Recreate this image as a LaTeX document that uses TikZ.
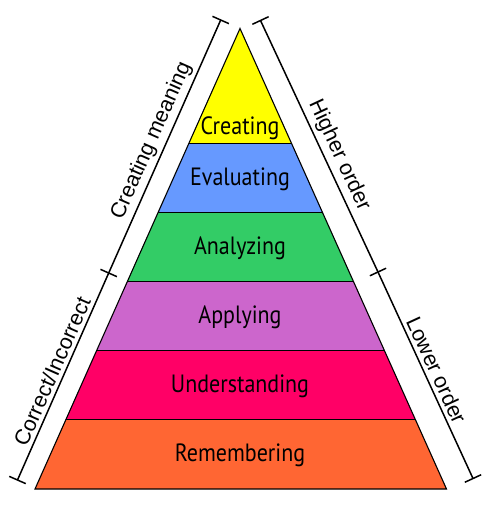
\documentclass[tikz,border=0pt]{standalone}
\usepackage{fontspec}
\setmainfont{PT Sans}
\newfontfamily\bandfont[FakeStretch=0.88]{PT Sans}
\newfontfamily\sidefont{Liberation Sans}
\usetikzlibrary{calc}
\definecolor{cyel}{HTML}{FFFF00}
\definecolor{cblue}{HTML}{6699FF}
\definecolor{cgreen}{HTML}{33CC66}
\definecolor{cpurple}{HTML}{CC66CC}
\definecolor{cpink}{HTML}{FF0066}
\definecolor{corange}{HTML}{FF6633}
\begin{document}
\begin{tikzpicture}[x=1pt,y=-1pt,
  band/.style={draw=black,line width=1.1pt,line join=miter},
  bandlabel/.style={font=\bandfont\fontsize{25}{25}\selectfont,inner sep=0pt},
  bracket/.style={line width=1.5pt},
  sidelabel/.style={font=\sidefont\fontsize{21.5}{21.5}\selectfont,inner sep=1pt,sloped,above=2.5pt}]
\useasboundingbox (0,0) rectangle (492,506);
\coordinate (A) at (240,28.5);
\coordinate (BL) at (35,489);
\coordinate (BR) at (446.5,489);
% band edges
\foreach \t/\n in {0.25/1,0.40/2,0.55/3,0.70/4,0.85/5,1/6}{
  \coordinate (L\n) at ($(A)!\t!(BL)$);
  \coordinate (R\n) at ($(A)!\t!(BR)$);
}
\fill[cyel] (A) -- (R1) -- (L1) -- cycle;
\fill[cblue] (L1) -- (R1) -- (R2) -- (L2) -- cycle;
\fill[cgreen] (L2) -- (R2) -- (R3) -- (L3) -- cycle;
\fill[cpurple] (L3) -- (R3) -- (R4) -- (L4) -- cycle;
\fill[cpink] (L4) -- (R4) -- (R5) -- (L5) -- cycle;
\fill[corange] (L5) -- (R5) -- (R6) -- (L6) -- cycle;
\draw[band] (A) -- (R6) -- (L6) -- cycle;
\foreach \n in {1,...,5}{ \draw[band] (L\n) -- (R\n); }
% band labels
\node[bandlabel] (creating) at (240,128) {Creating};
\node[bandlabel] (evaluating) at (240,179) {Evaluating};
\node[bandlabel] (analyzing) at (240,248) {Analyzing};
\node[bandlabel] (applying) at (240,317) {Applying};
\node[bandlabel] (understanding) at (240,386) {Understanding};
\node[bandlabel] (remembering) at (240,455) {Remembering};
% brackets
\coordinate (lt) at (220.7,20);
\coordinate (lm) at (108.7,273);
\coordinate (lb) at (17.5,480);
\coordinate (rt) at (260.5,20.5);
\coordinate (rm) at (378,272);
\coordinate (rb) at (473,478.5);
\draw[bracket] (lm) -- node[sidelabel] (cm) {Creating meaning} (lt);
\draw[bracket] (lb) -- node[sidelabel] (ci) {Correct/Incorrect} (lm);
\draw[bracket] (rt) -- node[sidelabel,pos=0.56] (ho) {Higher order} (rm);
\draw[bracket] (rm) -- node[sidelabel] (lo) {Lower order} (rb);
\draw[bracket] ($(lt)!9pt!90:(lm)$) -- ($(lt)!9pt!-90:(lm)$);
\draw[bracket] ($(lm)!9pt!90:(lt)$) -- ($(lm)!9pt!-90:(lt)$);
\draw[bracket] ($(lb)!9pt!90:(lm)$) -- ($(lb)!9pt!-90:(lm)$);
\draw[bracket] ($(rt)!9pt!90:(rm)$) -- ($(rt)!9pt!-90:(rm)$);
\draw[bracket] ($(rm)!9pt!90:(rt)$) -- ($(rm)!9pt!-90:(rt)$);
\draw[bracket] ($(rb)!9pt!90:(rm)$) -- ($(rb)!9pt!-90:(rm)$);
\end{tikzpicture}
\end{document}
